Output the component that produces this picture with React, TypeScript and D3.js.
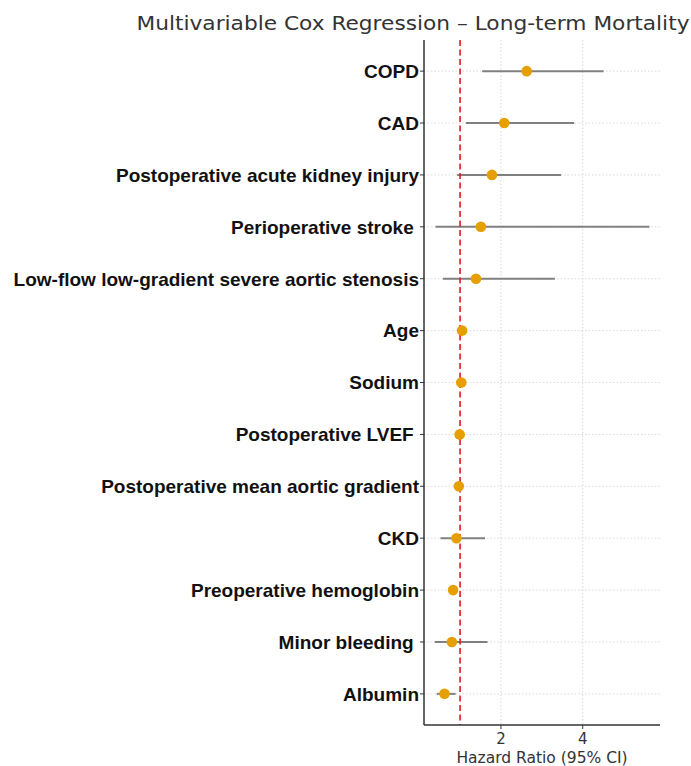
import * as d3 from 'd3';

// forest plot data
const labels = [
  'COPD',
  'CAD',
  'Postoperative acute kidney injury',
  'Perioperative stroke ',
  'Low-flow low-gradient severe aortic stenosis',
  'Age',
  'Sodium',
  'Postoperative LVEF ',
  'Postoperative mean aortic gradient',
  'CKD',
  'Preoperative hemoglobin',
  'Minor bleeding ',
  'Albumin',
];
const hr = [2.63, 2.08, 1.78, 1.51, 1.39, 1.05, 1.03, 0.99, 0.97, 0.91, 0.83, 0.8, 0.62];
const ciLow = [1.54, 1.14, 0.93, 0.4, 0.58, 1.02, 1.01, 0.98, 0.96, 0.52, 0.76, 0.38, 0.43];
const ciHigh = [4.51, 3.79, 3.47, 5.63, 3.32, 1.08, 1.05, 1.0, 0.98, 1.61, 0.9, 1.67, 0.89];
const xTicks = [2, 4];

const W = 691;
const H = 766;
const margin = { top: 40, right: 31, bottom: 41, left: 424 };

function App() {
  const x = d3
    .scaleLinear()
    .domain([0.118, 5.89])
    .range([margin.left, W - margin.right]);
  const y = d3
    .scalePoint<string>()
    .domain(labels)
    .range([margin.top, H - margin.bottom])
    .padding(0.6);

  const x0 = margin.left;
  const x1 = W - margin.right;
  const y0 = margin.top;
  const y1 = H - margin.bottom;

  return (
    <svg
      width={W}
      height={H}
      style={{ position: 'absolute', left: 0, top: 0, background: '#fff' }}
    >
      {/* grid */}
      {xTicks.map((t) => (
        <line
          key={'gx' + t}
          x1={x(t)}
          x2={x(t)}
          y1={y0}
          y2={y1}
          stroke="#d0d0d0"
          strokeWidth={0.8}
          strokeDasharray="1.5,2"
        />
      ))}
      {labels.map((l) => (
        <line
          key={'gy' + l}
          x1={x0}
          x2={x1}
          y1={y(l)}
          y2={y(l)}
          stroke="#d0d0d0"
          strokeWidth={0.8}
          strokeDasharray="1.5,2"
        />
      ))}

      {/* CI lines */}
      {labels.map((l, i) => (
        <line
          key={'ci' + l}
          x1={x(ciLow[i])}
          x2={x(ciHigh[i])}
          y1={y(l)}
          y2={y(l)}
          stroke="#808080"
          strokeWidth={2}
        />
      ))}

      {/* reference line */}
      <line
        x1={x(1)}
        x2={x(1)}
        y1={y0}
        y2={y1}
        stroke="#e8151b"
        strokeWidth={1.6}
        strokeDasharray="6,3.5"
      />

      {/* points */}
      {labels.map((l, i) => (
        <circle key={'pt' + l} cx={x(hr[i])} cy={y(l)} r={5.3} fill="#e69f00" />
      ))}

      {/* spines */}
      <line x1={x0} x2={x0} y1={y0} y2={y1} stroke="#333" strokeWidth={1.5} />
      <line x1={x0} x2={x1} y1={y1} y2={y1} stroke="#333" strokeWidth={1.5} />

      {/* y ticks + labels */}
      {labels.map((l) => (
        <g key={'yl' + l}>
          <line x1={x0 - 4} x2={x0} y1={y(l)} y2={y(l)} stroke="#333" strokeWidth={1} />
          <text
            x={x0 - 5}
            y={y(l)}
            dy="0.36em"
            textAnchor="end"
            fontFamily="'Liberation Sans', Arial, sans-serif"
            fontWeight="bold"
            fontSize={19}
            fill="#111"
            style={{ whiteSpace: 'pre' }}
          >
            {l}
          </text>
        </g>
      ))}

      {/* x ticks */}
      {xTicks.map((t) => (
        <g key={'xt' + t}>
          <line x1={x(t)} x2={x(t)} y1={y1} y2={y1 + 4} stroke="#333" strokeWidth={1} />
          <text
            x={x(t)}
            y={y1 + 19}
            textAnchor="middle"
            fontFamily="'DejaVu Sans', sans-serif"
            fontSize={15}
            fill="#333"
          >
            {t}
          </text>
        </g>
      ))}

      <text
        x={542}
        y={763}
        textAnchor="middle"
        fontFamily="'DejaVu Sans', sans-serif"
        fontSize={15.5}
        fill="#333"
      >
        Hazard Ratio (95% CI)
      </text>

      <text
        x={413}
        y={30}
        textAnchor="middle"
        fontFamily="'DejaVu Sans', sans-serif"
        fontSize={20}
        fill="#333"
        textLength={553}
        lengthAdjust="spacingAndGlyphs"
      >
        Multivariable Cox Regression – Long-term Mortality
      </text>
    </svg>
  );
}

export default App;
